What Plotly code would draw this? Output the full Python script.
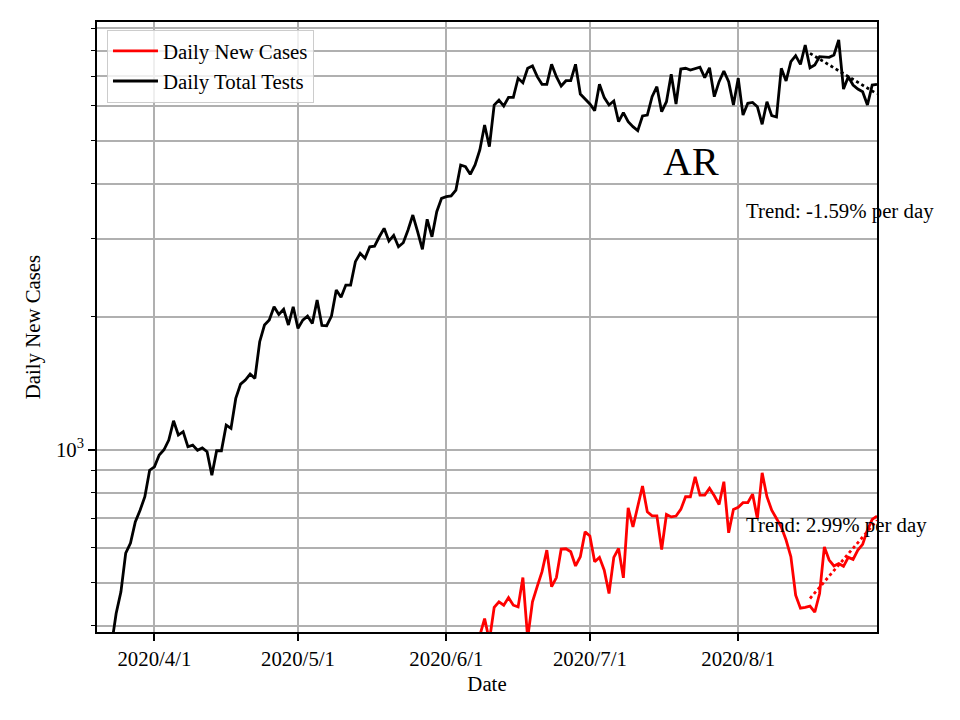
import numpy as np
import pandas as pd
import plotly.graph_objects as go

# ---------------- data ----------------
tests_start = "2020-03-23"
daily_total_tests = [
    360, 426, 477, 584, 615, 687, 730, 783, 899, 915,
    973, 1000, 1052, 1163, 1080, 1099, 1016, 1025, 998, 1010,
    990, 876, 995, 995, 1137, 1118, 1307, 1408, 1438, 1484,
    1451, 1756, 1916, 1966, 2107, 2025, 2079, 1916, 2107, 1883,
    1966, 2007, 1932, 2182, 1912, 1909, 2007, 2298, 2213, 2359,
    2359, 2665, 2783, 2712, 2880, 2890, 3034, 3170, 2967, 3057,
    2880, 2942, 3143, 3398, 3115, 2842, 3323, 3034, 3457, 3707,
    3738, 3755, 3871, 4410, 4372, 4202, 4410, 4769, 5431, 4851,
    6028, 6187, 5996, 6275, 6275, 6929, 6771, 7300, 7388, 6987,
    6715, 6715, 7452, 6987, 6655, 6842, 6842, 7452, 6384, 6210,
    6060, 5853, 6715, 6265, 6028, 6155, 5526, 5793, 5526, 5384,
    5275, 5693, 5720, 6295, 6632, 5821, 6133, 7075, 6060, 7272,
    7300, 7234, 7300, 7338, 6950, 7320, 6295, 6808, 7196, 6808,
    6028, 6929, 5720, 6083, 6110, 5975, 5452, 6133, 5702, 5662,
    7300, 6832, 7554, 7795, 7452, 8241, 7320, 7426, 7756, 7756,
    7730, 7824, 8458, 6551, 6987, 6690, 6550, 6460, 6028, 6690,
    6715,
]

cases_start = "2020-06-08"
daily_new_cases = [
    380, 415, 370, 440, 453, 445, 463, 445, 441, 514,
    375, 453, 491, 530, 593, 490, 514, 596, 597, 588,
    546, 573, 652, 638, 558, 571, 534, 473, 571, 598,
    513, 739, 669, 741, 828, 724, 709, 709, 595, 714,
    705, 708, 733, 783, 783, 869, 790, 790, 818, 787,
    752, 847, 649, 733, 741, 759, 759, 794, 699, 887,
    783, 730, 699, 669, 625, 573, 469, 438, 440, 443,
    429, 473, 603, 563, 546, 553, 545, 571, 565, 593,
    611, 658, 696, 708,
]

trend_days = 15
tests_trend_label = "Trend: -1.59% per day"
cases_trend_label = "Trend: 2.99% per day"
state_label = "AR"

x_tick_dates = ["2020-04-01", "2020-05-01", "2020-06-01", "2020-07-01", "2020-08-01"]
x_tick_text = ["2020/4/1", "2020/5/1", "2020/6/1", "2020/7/1", "2020/8/1"]
x_range = ["2020-03-20", "2020-08-30"]
y_range = [387, 9290]
y_major_vals = [1000]
y_major_text = ["10<sup>3</sup>"]
y_minor_vals = [400, 500, 600, 700, 800, 900, 2000, 3000, 4000, 5000, 6000, 7000, 8000, 9000]

# ---------------- build ----------------
tests_dates = pd.date_range(tests_start, periods=len(daily_total_tests), freq="D")
cases_dates = pd.date_range(cases_start, periods=len(daily_new_cases), freq="D")


def trend_fit(dates, values, n):
    d = dates[-n:]
    v = np.log10(np.asarray(values[-n:], dtype=float))
    t = np.arange(n)
    slope, intercept = np.polyfit(t, v, 1)
    return d, 10 ** (intercept + slope * t)


FONT = "Liberation Serif, Times New Roman, serif"
LW = 2.8

fig = go.Figure()
fig.add_trace(go.Scatter(x=cases_dates, y=daily_new_cases, mode="lines",
                         line=dict(color="#ff0000", width=LW), name="Daily New Cases"))
fig.add_trace(go.Scatter(x=tests_dates, y=daily_total_tests, mode="lines",
                         line=dict(color="#000000", width=LW), name="Daily Total Tests"))

td, tv = trend_fit(tests_dates, daily_total_tests, trend_days)
fig.add_trace(go.Scatter(x=td, y=tv, mode="lines", showlegend=False,
                         line=dict(color="#000000", width=LW, dash="dot")))
cd, cv = trend_fit(cases_dates, daily_new_cases, trend_days)
fig.add_trace(go.Scatter(x=cd, y=cv, mode="lines", showlegend=False,
                         line=dict(color="#ff0000", width=LW, dash="dot")))

GRID = "#b0b0b0"
fig.update_layout(
    width=960, height=720,
    margin=dict(l=97, r=83, t=22, b=88),
    paper_bgcolor="white", plot_bgcolor="white",
    font=dict(family=FONT, size=20.8, color="black"),
    showlegend=True,
    legend=dict(x=0.0128, y=0.987, xanchor="left", yanchor="top",
                bgcolor="rgba(255,255,255,0.8)", bordercolor="#cccccc", borderwidth=1,
                font=dict(family=FONT, size=20.8, color="black"),
                itemwidth=45, tracegroupgap=0),
    xaxis=dict(
        type="date", range=x_range, automargin=False,
        tickmode="array", tickvals=x_tick_dates, ticktext=x_tick_text,
        ticks="outside", ticklen=7, tickwidth=1.67, tickcolor="black",
        showgrid=True, gridcolor=GRID, gridwidth=1.67,
        showline=True, linecolor="black", linewidth=1.67, mirror=True,
        zeroline=False,
        title=dict(text="Date", font=dict(family=FONT, size=20.8), standoff=8),
    ),
    yaxis=dict(
        type="log", range=[np.log10(y_range[0]), np.log10(y_range[1])], automargin=False,
        tickmode="array", tickvals=y_major_vals, ticktext=y_major_text,
        ticks="outside", ticklen=7, tickwidth=1.67, tickcolor="black",
        showgrid=True, gridcolor=GRID, gridwidth=1.67,
        minor=dict(tickmode="array", tickvals=y_minor_vals, ticks="outside",
                   ticklen=4, tickwidth=1.25, tickcolor="black",
                   showgrid=True, gridcolor=GRID, gridwidth=1.67),
        showline=True, linecolor="black", linewidth=1.67, mirror=True,
        zeroline=False,
        title=dict(text="Daily New Cases", font=dict(family=FONT, size=20.8), standoff=10),
    ),
)

fig.add_annotation(xref="paper", yref="paper", x=0.7615, y=0.772, text=state_label,
                   showarrow=False, xanchor="center", yanchor="middle",
                   font=dict(family=FONT, size=40, color="black"))
fig.add_annotation(xref="paper", yref="paper", x=0.8295, y=0.69, text=tests_trend_label,
                   showarrow=False, xanchor="left", yanchor="middle",
                   font=dict(family=FONT, size=20.8, color="black"))
fig.add_annotation(xref="paper", yref="paper", x=0.8295, y=0.175, text=cases_trend_label,
                   showarrow=False, xanchor="left", yanchor="middle",
                   font=dict(family=FONT, size=20.8, color="black"))

fig.write_html("out.html", config={"displayModeBar": False},
               post_script="document.body.style.margin='0';")
